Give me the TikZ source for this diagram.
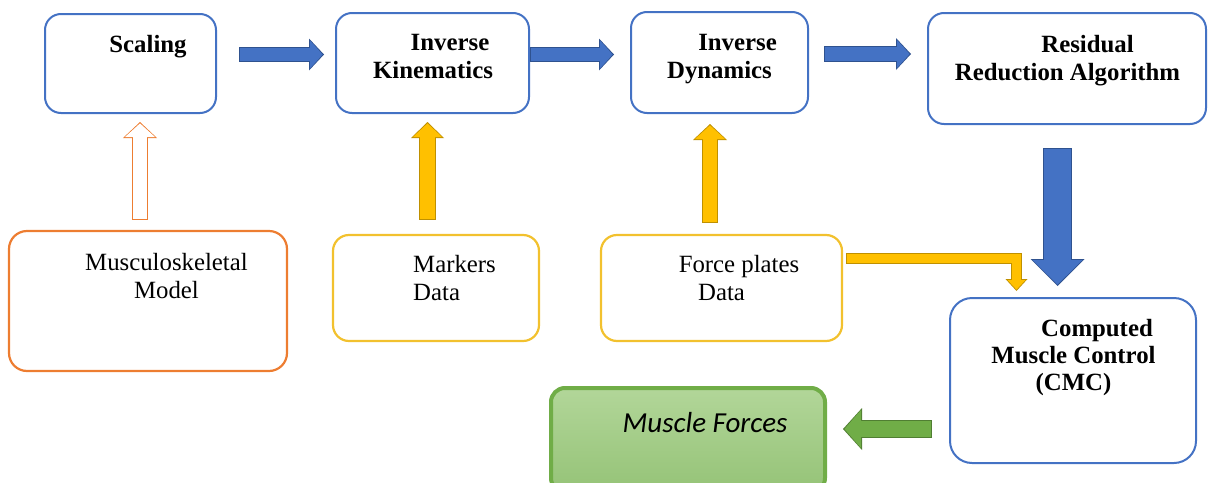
\documentclass[tikz,border=0pt]{standalone}
\usepackage{fontspec}
\setmainfont{Liberation Serif}
\newfontfamily\calibri{Carlito}
\usetikzlibrary{arrows.meta,calc}
\definecolor{boxblue}{HTML}{4472C4}
\definecolor{blueedge}{HTML}{2F528F}
\definecolor{boxorange}{HTML}{ED7D31}
\definecolor{gold}{HTML}{FFC000}
\definecolor{goldedge}{HTML}{BF9000}
\definecolor{boxgold}{HTML}{F2C12E}
\definecolor{leaf}{HTML}{70AD47}
\definecolor{leafedge}{HTML}{507E32}
\definecolor{leaftop}{HTML}{B2D699}
\definecolor{leafbot}{HTML}{95C377}

% block arrow: edge colour, fill colour, shaft, head width, head length, path
\newcommand{\fatarrow}[6]{%
  \pgfmathsetmacro{\innershaft}{#3-2}%
  \pgfmathsetmacro{\innerhw}{#4-4}%
  \pgfmathsetmacro{\innerhl}{#5-2.4}%
  \draw[#1, line width=#3pt, -{Triangle[length=#5pt, width=#4pt, line width=0pt]}] #6;
  \draw[#2, line width=\innershaft pt, shorten >=1.4pt, shorten <=1pt,
    -{Triangle[length=\innerhl pt, width=\innerhw pt, line width=0pt]}] #6;}

\begin{document}
\begin{tikzpicture}[x=1pt, y=-1pt,
  bluebox/.style={draw=boxblue, line width=2pt, rounded corners=16pt, inner sep=0pt},
  orangebox/.style={draw=boxorange, line width=2.2pt, rounded corners=18pt, inner sep=0pt},
  goldbox/.style={draw=boxgold, line width=2.2pt, rounded corners=16pt, inner sep=0pt},
  greenbox/.style={draw=leaf, line width=4pt, rounded corners=14pt, inner sep=0pt,
    top color=leaftop, bottom color=leafbot},
  boldtxt/.style={font=\fontsize{24.8}{28}\selectfont\bfseries, align=center,
    inner sep=0pt, anchor=base},
  plaintxt/.style={font=\fontsize{24.8}{28}\selectfont, align=center,
    inner sep=0pt, anchor=base}]
\useasboundingbox (0,0) rectangle (1210,482);

% top row
\node[bluebox, minimum width=171pt, minimum height=99pt] (scaling) at (130.5,63.5) {};
\node[bluebox, minimum width=193pt, minimum height=100pt] (ik) at (432.5,63) {};
\node[bluebox, minimum width=177pt, minimum height=101pt] (id) at (719.5,62.5) {};
\node[bluebox, minimum width=278pt, minimum height=111pt] (rra) at (1067,68.5) {};
\node[boldtxt] (scalingtxt) at (148,52) {Scaling};
\node[boldtxt] (iktxt) at (433,78) {\hspace*{34pt}Inverse\\Kinematics};
\node[boldtxt] (idtxt) at (719.5,78) {\hspace*{36pt}Inverse\\Dynamics};
\node[boldtxt] (rratxt) at (1067.5,80) {\hspace*{40pt}Residual\\Reduction Algorithm};

% inputs
\node[orangebox, minimum width=278pt, minimum height=140pt] (msk) at (148,301) {};
\node[goldbox, minimum width=206pt, minimum height=106pt] (markers) at (436,288) {};
\node[goldbox, minimum width=241pt, minimum height=106pt] (force) at (721.5,288) {};
\node[plaintxt] (msktxt) at (166.5,298) {Musculoskeletal\\Model};
\node[plaintxt, align=left, anchor=base west] (markerstxt) at (413,300) {Markers\\Data};
\node[plaintxt] (forcetxt) at (721.5,300) {\hspace*{35pt}Force plates\\Data};

% CMC and output
\node[bluebox, minimum width=246pt, minimum height=165pt, rounded corners=22pt] (cmc) at (1073,380.5) {};
\node[boldtxt, font=\fontsize{24.8}{27}\selectfont\bfseries] (cmctxt) at (1073.5,390)
  {\hspace*{47pt}Computed\\Muscle Control\\(CMC)};
\node[greenbox, minimum width=274pt, minimum height=104pt] (forces) at (688,440) {};
\node[font=\fontsize{29}{34}\selectfont\calibri\itshape, inner sep=0pt, anchor=base]
  (forcestxt) at (705,432) {Muscle Forces};

% block arrows
\fatarrow{blueedge}{boxblue}{15}{32}{15}{($(scaling.east)+(22,-9)$) -- ($(ik.west)+(-11,-8.5)$)}
\fatarrow{blueedge}{boxblue}{15}{32}{15}{($(ik.east)+(0,-8.5)$) -- ($(id.west)+(-16,-8)$)}
\fatarrow{blueedge}{boxblue}{16}{32}{15}{($(id.east)+(15,-8.5)$) -- ($(rra.west)+(-16,-14.5)$)}
\fatarrow{blueedge}{boxblue}{29}{54}{27}{($(rra.south)+(-9.5,23)$) -- ($(cmc.north)+(-15.5,-11)$)}
\fatarrow{boxorange}{white}{16}{34}{16}{($(msk.north)+(-8,-10)$) -- ($(scaling.south)+(9.5,8)$)}
\fatarrow{goldedge}{gold}{17}{33}{16}{($(markers.north)+(-8.5,-14)$) -- ($(ik.south)+(-5,8)$)}
\fatarrow{goldedge}{gold}{16}{34}{16}{($(force.north)+(-11.5,-11)$) -- ($(id.south)+(-9.5,10)$)}
\fatarrow{goldedge}{gold}{11}{22}{12}{($(force.east)+(3,-29.5)$) -| ($(cmc.north)+(-56.5,-6)$)}
\fatarrow{leafedge}{leaf}{18}{42}{19}{($(cmc.west)+(-17,48.5)$) -- ($(forces.east)+(16,-11)$)}
\end{tikzpicture}
\end{document}
